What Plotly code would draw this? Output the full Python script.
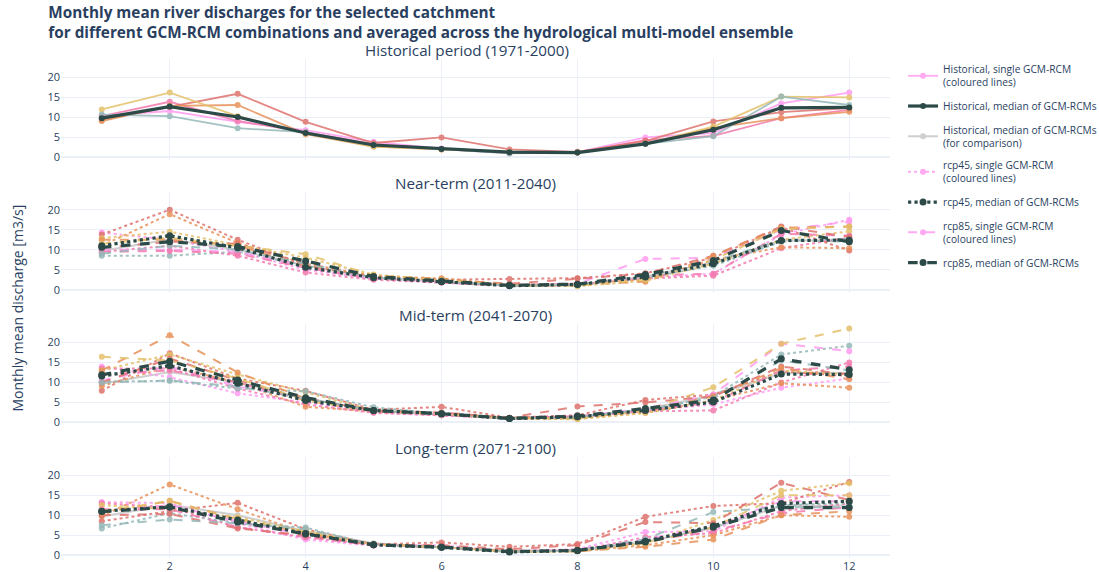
import plotly.graph_objects as go
from plotly.subplots import make_subplots

months = [1, 2, 3, 4, 5, 6, 7, 8, 9, 10, 11, 12]
model_colors = ["#ff9cf0", "#f47aae", "#df736e", "#e8925a", "#e4c06a", "#96b8b8"]

panel_titles = ["Historical period (1971-2000)", "Near-term (2011-2040)",
                "Mid-term (2041-2070)", "Long-term (2071-2100)"]

# Historical single GCM-RCMs
hist_singles = [
    [10.3, 11.5, 8.8, 6.7, 3.8, 2.1, 1.2, 1.2, 4.9, 6.0, 13.4, 16.1],
    [10.2, 13.8, 9.0, 6.2, 3.2, 2.0, 1.0, 1.1, 4.2, 5.3, 9.7, 11.8],
    [9.3, 12.5, 15.8, 8.8, 3.5, 4.9, 1.9, 1.3, 4.0, 8.9, 11.2, 12.2],
    [9.0, 12.8, 13.0, 5.7, 2.6, 1.9, 1.2, 1.1, 3.3, 7.3, 9.7, 11.3],
    [11.9, 16.1, 10.2, 5.9, 2.6, 1.9, 1.2, 1.1, 3.3, 7.6, 15.1, 14.9],
    [10.6, 10.2, 7.2, 6.2, 3.0, 2.0, 0.9, 1.1, 3.3, 5.2, 15.1, 13.0],
]
hist_median = [9.7, 12.6, 10.0, 6.0, 3.0, 2.0, 1.2, 1.1, 3.3, 6.8, 12.3, 12.4]

# Near-term
near_rcp45 = [
    [14.3, 12.5, 9.5, 5.0, 2.8, 2.0, 1.0, 1.2, 3.0, 4.0, 13.8, 17.5],
    [9.5, 11.0, 8.5, 4.3, 2.5, 1.8, 1.0, 1.3, 2.8, 3.5, 10.4, 13.0],
    [13.8, 20.0, 12.5, 6.0, 3.3, 2.5, 2.7, 2.9, 4.1, 8.0, 15.6, 9.8],
    [11.0, 18.9, 11.7, 6.5, 3.5, 2.8, 1.2, 1.5, 2.5, 7.5, 10.6, 10.4],
    [12.9, 14.5, 11.2, 8.0, 3.8, 2.3, 1.0, 0.9, 2.2, 6.5, 12.5, 14.6],
    [8.5, 8.5, 9.5, 6.0, 3.0, 2.0, 1.0, 1.2, 3.0, 6.0, 12.0, 12.8],
]
near_rcp45_median = [11.0, 13.5, 10.5, 5.6, 3.0, 2.0, 1.0, 1.3, 3.2, 6.5, 12.3, 12.4]
near_rcp85 = [
    [10.0, 10.0, 9.5, 6.0, 3.0, 2.0, 1.2, 1.5, 7.7, 8.0, 15.0, 17.0],
    [9.5, 9.7, 9.0, 5.5, 2.8, 1.8, 1.0, 1.2, 3.5, 4.0, 14.0, 13.5],
    [10.5, 12.0, 11.5, 6.5, 3.3, 2.5, 1.5, 2.8, 4.0, 8.5, 15.8, 13.2],
    [12.5, 12.5, 11.0, 6.0, 3.4, 2.8, 1.2, 1.3, 2.0, 8.5, 15.5, 15.8],
    [11.5, 13.0, 11.0, 8.9, 3.6, 2.5, 1.1, 1.0, 2.5, 7.5, 15.2, 15.8],
    [9.0, 11.0, 10.0, 6.5, 3.0, 2.0, 1.0, 1.3, 3.5, 7.0, 12.5, 12.0],
]
near_rcp85_median = [10.6, 12.0, 10.8, 7.2, 3.3, 2.1, 1.1, 1.4, 3.8, 7.3, 14.8, 12.0]

# Mid-term
mid_rcp45 = [
    [14.0, 11.3, 7.3, 5.0, 2.5, 1.8, 1.0, 1.5, 3.0, 4.5, 8.7, 11.0],
    [13.5, 13.5, 8.5, 4.5, 2.4, 1.8, 1.0, 1.3, 2.8, 3.0, 10.0, 15.0],
    [7.9, 17.3, 11.0, 7.9, 3.2, 3.9, 1.2, 1.8, 5.6, 7.0, 12.8, 11.6],
    [9.1, 14.0, 10.0, 3.9, 2.8, 2.2, 1.0, 1.0, 2.4, 5.5, 9.8, 8.7],
    [13.0, 17.0, 12.0, 7.5, 3.0, 2.0, 1.0, 0.8, 2.4, 5.5, 13.0, 12.0],
    [10.2, 10.4, 8.5, 7.8, 3.8, 2.2, 0.9, 1.5, 3.0, 6.5, 17.0, 19.2],
]
mid_rcp45_median = [11.6, 14.2, 9.8, 5.5, 3.0, 2.2, 1.0, 1.4, 3.0, 5.1, 12.1, 12.0]
mid_rcp85 = [
    [10.5, 14.0, 9.0, 6.0, 3.0, 2.0, 1.0, 1.5, 3.5, 7.0, 19.7, 17.8],
    [12.0, 13.0, 10.0, 5.5, 2.7, 1.8, 1.0, 1.5, 3.0, 5.0, 13.0, 14.0],
    [10.0, 16.0, 10.5, 6.0, 3.0, 2.5, 1.2, 4.0, 5.0, 6.5, 14.0, 12.0],
    [13.0, 21.8, 12.5, 6.0, 3.0, 2.2, 1.1, 1.2, 3.0, 6.5, 13.6, 10.8],
    [16.4, 15.5, 11.0, 5.5, 2.8, 2.0, 1.0, 1.0, 3.0, 8.8, 19.7, 23.5],
    [10.0, 10.5, 9.0, 6.0, 3.0, 2.0, 1.0, 1.3, 3.3, 6.0, 15.5, 13.0],
]
mid_rcp85_median = [11.9, 15.3, 10.6, 6.2, 3.0, 2.2, 1.0, 1.6, 3.5, 5.6, 15.9, 13.2]

# Long-term
long_rcp45 = [
    [13.3, 13.0, 8.0, 3.9, 2.4, 2.5, 1.0, 1.5, 5.8, 6.0, 14.4, 15.0],
    [13.0, 12.0, 7.0, 4.5, 2.5, 2.0, 1.0, 1.2, 4.5, 5.5, 11.0, 13.0],
    [8.5, 11.0, 13.1, 6.5, 2.7, 3.2, 2.1, 2.8, 9.6, 12.3, 13.0, 18.3],
    [9.8, 17.7, 11.5, 5.5, 2.6, 2.0, 0.9, 1.0, 2.5, 5.0, 10.0, 9.6],
    [12.5, 11.5, 9.5, 6.0, 2.7, 2.0, 0.9, 1.0, 3.0, 8.8, 16.1, 18.0],
    [6.7, 10.5, 8.0, 6.9, 2.6, 2.0, 0.8, 1.2, 3.5, 7.0, 12.5, 13.0],
]
long_rcp45_median = [11.0, 12.1, 8.8, 5.4, 2.6, 2.0, 0.8, 1.2, 3.5, 7.3, 12.9, 13.5]
long_rcp85 = [
    [11.0, 12.5, 8.5, 5.0, 2.5, 2.0, 1.0, 1.3, 4.0, 7.0, 13.5, 13.5],
    [11.5, 11.5, 7.0, 4.5, 2.5, 2.0, 1.0, 1.2, 3.5, 6.0, 10.5, 12.0],
    [10.0, 10.3, 6.7, 5.0, 2.6, 2.5, 1.5, 2.5, 8.3, 8.0, 18.1, 13.8],
    [10.5, 13.6, 9.0, 5.5, 2.7, 2.0, 1.0, 1.0, 2.1, 3.9, 10.0, 11.0],
    [11.0, 13.5, 9.0, 6.0, 2.7, 2.0, 1.0, 1.0, 3.0, 7.0, 15.0, 15.0],
    [7.5, 8.9, 8.0, 6.5, 2.6, 2.0, 0.9, 1.2, 4.0, 10.8, 12.0, 12.0],
]
long_rcp85_median = [10.9, 12.0, 8.3, 5.3, 2.6, 2.0, 0.9, 1.2, 3.3, 7.0, 11.9, 11.9]

future = [
    (near_rcp45, near_rcp45_median, near_rcp85, near_rcp85_median),
    (mid_rcp45, mid_rcp45_median, mid_rcp85, mid_rcp85_median),
    (long_rcp45, long_rcp45_median, long_rcp85, long_rcp85_median),
]

DARK = "#2c4a47"
GREY = "#cfcfcf"
FONT_COLOR = "#2a3f5f"

fig = make_subplots(rows=4, cols=1, shared_xaxes=True, vertical_spacing=0.064,
                    subplot_titles=panel_titles)

shown = set()


def add(y, row, name, color, dash, width, msize, opacity, rank):
    show = name not in shown
    shown.add(name)
    fig.add_trace(go.Scatter(
        x=months, y=y, mode="lines+markers", name=name,
        line=dict(color=color, dash=dash, width=width),
        marker=dict(color=color, size=msize),
        opacity=opacity, showlegend=show, legendrank=rank,
        legendgroup="g%d" % rank,
        hoverinfo="skip"), row=row, col=1)


L_HS = "Historical, single GCM-RCM<br>(coloured lines)"
L_HM = "Historical, median of GCM-RCMs"
L_HC = "Historical, median of GCM-RCMs<br>(for comparison)"
L_45S = "rcp45, single GCM-RCM<br>(coloured lines)"
L_45M = "rcp45, median of GCM-RCMs"
L_85S = "rcp85, single GCM-RCM<br>(coloured lines)"
L_85M = "rcp85, median of GCM-RCMs"

# Historical panel
for c, s in zip(model_colors, hist_singles):
    add(s, 1, L_HS, c, "solid", 1.8, 6, 0.85, 1)
add(hist_median, 1, L_HM, DARK, "solid", 3.2, 6, 1.0, 2)

# Future panels
for i, (s45, m45, s85, m85) in enumerate(future):
    row = i + 2
    add(hist_median, row, L_HC, GREY, "solid", 2, 6, 1.0, 3)
    for c, s in zip(model_colors, s45):
        add(s, row, L_45S, c, "dot", 2, 6, 0.85, 4)
    for c, s in zip(model_colors, s85):
        add(s, row, L_85S, c, "dash", 2, 6, 0.85, 6)
    add(m45, row, L_45M, DARK, "dot", 3.2, 7, 1.0, 5)
    add(m85, row, L_85M, DARK, "dash", 3.2, 7, 1.0, 7)

fig.update_xaxes(range=[0.4, 12.6], dtick=2, tick0=0, automargin=False,
                 showgrid=True, gridcolor="#EBF0F8", zeroline=False,
                 tickfont=dict(size=11, color=FONT_COLOR))
fig.update_yaxes(range=[-0.7, 24.5], tickvals=[0, 5, 10, 15, 20], automargin=False,
                 gridcolor="#EBF0F8", zeroline=True, zerolinecolor="#EBF0F8",
                 zerolinewidth=2, tickfont=dict(size=11, color=FONT_COLOR))

for k, ann in enumerate(fig.layout.annotations):
    ann.font = dict(size=15.2, color=FONT_COLOR)
    ann.yshift = -3
    if k == 0:
        ann.xshift = -9

fig.add_annotation(text="Monthly mean discharge [m3/s]", textangle=-90,
                   xref="paper", yref="paper", x=0, y=0.5, xshift=-44,
                   xanchor="center", yanchor="middle",
                   showarrow=False, font=dict(size=14, color=FONT_COLOR))

fig.update_layout(
    template="plotly_white",
    width=1099, height=572,
    margin=dict(l=61, r=209, t=59, b=14, autoexpand=False),
    font=dict(family="Open Sans, Verdana, Arial, sans-serif", color=FONT_COLOR),
    title=dict(text="<b>Monthly mean river discharges for the selected catchment<br>"
                    "for different GCM-RCM combinations and averaged across the hydrological multi-model ensemble</b>",
               x=0.044, xanchor="left", y=0.969, yanchor="top",
               font=dict(size=15.3, color=FONT_COLOR)),
    legend=dict(font=dict(size=10.2, color=FONT_COLOR), traceorder="grouped",
                tracegroupgap=6, xref="container", x=0.8217, xanchor="left",
                y=1.006, yanchor="top"),
)

fig.write_html("out.html")
